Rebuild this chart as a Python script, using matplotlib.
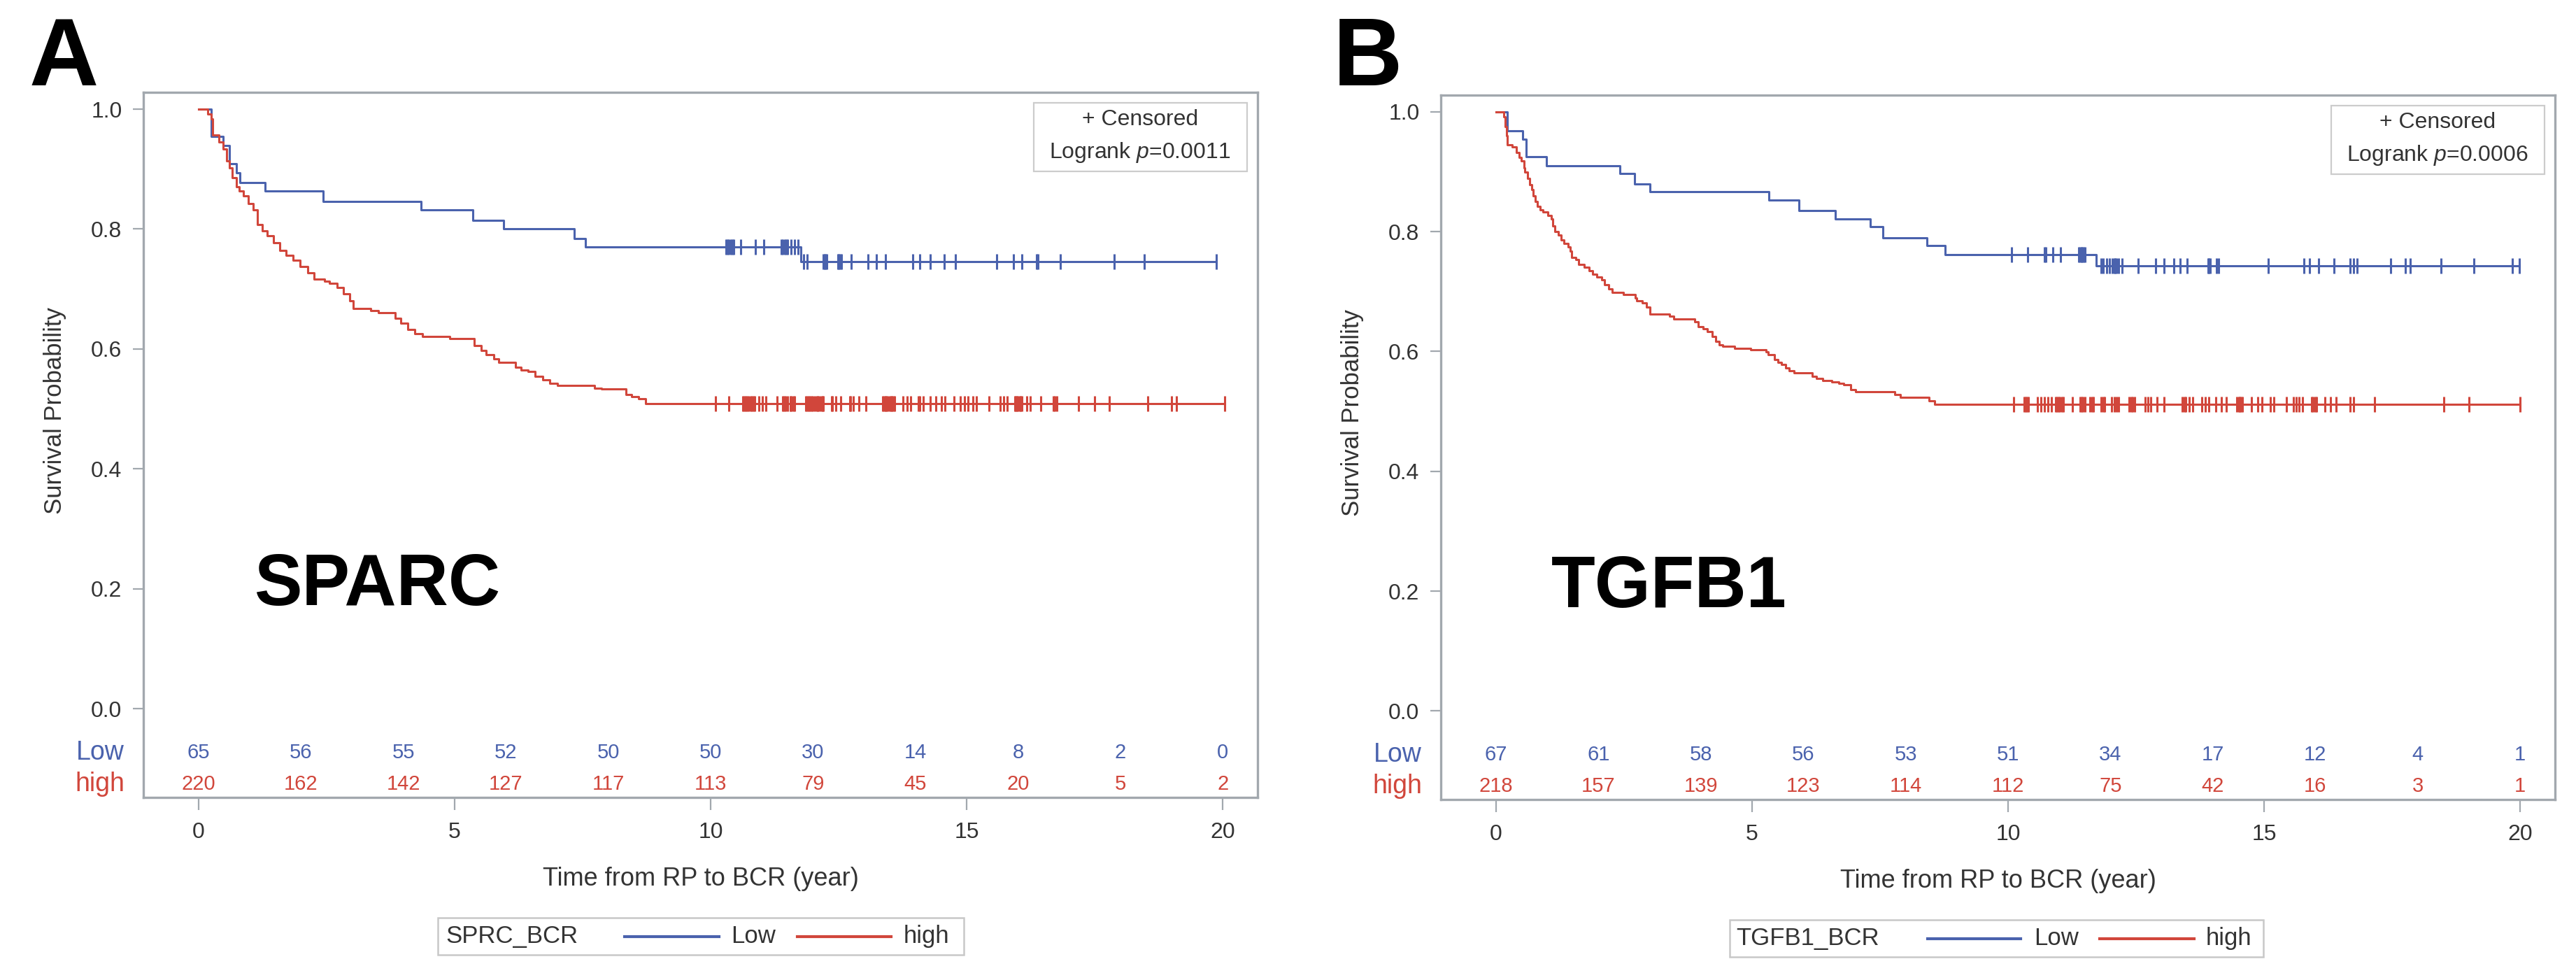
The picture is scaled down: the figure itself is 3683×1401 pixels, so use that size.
import numpy as np
import matplotlib
matplotlib.use('Agg')
import matplotlib.pyplot as plt
from matplotlib.lines import Line2D
from matplotlib.patches import Rectangle

plt.rcParams['font.family'] = ['Liberation Sans', 'DejaVu Sans']
plt.rcParams['mathtext.fontset'] = 'custom'
plt.rcParams['mathtext.rm'] = 'Liberation Sans'
plt.rcParams['mathtext.it'] = 'Liberation Sans:italic'

# ---------------- data ----------------
risk_times = [0, 2, 4, 6, 8, 10, 12, 14, 16, 18, 20]

# A: SPARC
a_low_t = [0.25, 0.48, 0.60, 0.74, 0.80, 1.30, 2.43, 4.34, 5.35, 5.95, 7.33, 7.55, 11.76]
a_low_s = [0.955, 0.939, 0.909, 0.894, 0.877, 0.863, 0.846, 0.832, 0.814, 0.800, 0.784, 0.770, 0.746]
a_low_cens = [10.30, 10.33, 10.36, 10.39, 10.42, 10.45, 10.59, 10.87, 11.03, 11.38, 11.41, 11.44,
              11.47, 11.50, 11.57, 11.64, 11.70, 11.81, 11.88, 12.20, 12.22, 12.24, 12.26, 12.48,
              12.50, 12.53, 12.55, 12.75, 13.07, 13.24, 13.41, 13.94, 14.08, 14.29, 14.56, 14.78,
              15.58, 15.91, 16.07, 16.37, 16.39, 16.83, 17.88, 18.47, 19.87]

a_high_t = [0.18, 0.24, 0.27, 0.39, 0.48, 0.54, 0.60, 0.66, 0.73, 0.79, 0.88, 0.97, 1.06, 1.15,
            1.24, 1.34, 1.46, 1.58, 1.70, 1.85, 1.98, 2.13, 2.25, 2.46, 2.56, 2.71, 2.83, 2.95,
            3.02, 3.36, 3.51, 3.84, 3.94, 4.08, 4.22, 4.37, 4.90, 5.38, 5.52, 5.62, 5.76, 5.86,
            6.19, 6.29, 6.43, 6.57, 6.72, 6.86, 7.01, 7.73, 7.87, 8.35, 8.45, 8.59, 8.73]
a_high_s = [0.992, 0.984, 0.957, 0.945, 0.933, 0.914, 0.902, 0.886, 0.871, 0.863, 0.855, 0.843,
            0.832, 0.808, 0.797, 0.789, 0.777, 0.764, 0.756, 0.748, 0.738, 0.727, 0.717, 0.713,
            0.709, 0.703, 0.692, 0.680, 0.668, 0.664, 0.660, 0.651, 0.643, 0.632, 0.625, 0.621,
            0.617, 0.606, 0.597, 0.591, 0.583, 0.578, 0.569, 0.565, 0.562, 0.554, 0.549, 0.543,
            0.539, 0.535, 0.533, 0.524, 0.520, 0.517, 0.509]
a_high_cens = [10.10, 10.36, 10.62, 10.65, 10.68, 10.71, 10.74, 10.77, 10.80, 10.83, 10.86, 10.94,
               11.01, 11.08, 11.29, 11.41, 11.43, 11.46, 11.50, 11.55, 11.57, 11.61, 11.64, 11.86,
               11.88, 11.91, 11.94, 11.97, 11.99, 12.04, 12.07, 12.09, 12.12, 12.15, 12.18, 12.20,
               12.36, 12.38, 12.44, 12.54, 12.71, 12.73, 12.79, 12.89, 13.03, 13.36, 13.38, 13.41,
               13.43, 13.46, 13.49, 13.52, 13.54, 13.57, 13.59, 13.76, 13.83, 13.90, 14.06, 14.08,
               14.15, 14.29, 14.39, 14.50, 14.57, 14.75, 14.88, 14.95, 15.02, 15.12, 15.19, 15.44,
               15.65, 15.72, 15.79, 15.94, 15.96, 15.98, 16.00, 16.03, 16.05, 16.07, 16.17, 16.24,
               16.45, 16.69, 16.72, 16.76, 17.18, 17.50, 17.78, 18.54, 19.00, 19.10, 20.04]

a_low_risk = [65, 56, 55, 52, 50, 50, 30, 14, 8, 2, 0]
a_high_risk = [220, 162, 142, 127, 117, 113, 79, 45, 20, 5, 2]
a_pvalue = '0.0011'

# B: TGFB1
b_low_t = [0.22, 0.52, 0.58, 0.98, 2.42, 2.70, 3.01, 5.33, 5.92, 6.62, 7.31, 7.55, 8.41, 8.77, 11.72]
b_low_s = [0.969, 0.955, 0.925, 0.910, 0.897, 0.880, 0.867, 0.853, 0.835, 0.821, 0.809, 0.790,
           0.777, 0.762, 0.743]
b_low_cens = [10.06, 10.38, 10.71, 10.74, 10.87, 11.02, 11.38, 11.40, 11.43, 11.45, 11.47, 11.50,
              11.81, 11.86, 11.92, 11.98, 12.04, 12.07, 12.09, 12.12, 12.16, 12.23, 12.54, 12.88,
              13.05, 13.23, 13.36, 13.49, 13.90, 13.92, 13.94, 14.07, 14.11, 15.08, 15.77, 15.88,
              16.06, 16.37, 16.68, 16.75, 16.82, 17.47, 17.75, 17.85, 18.46, 19.09, 19.85, 19.99]

b_high_t = [0.15, 0.17, 0.20, 0.22, 0.31, 0.40, 0.45, 0.49, 0.54, 0.56, 0.61, 0.65, 0.69, 0.72,
            0.76, 0.81, 0.86, 0.92, 1.01, 1.08, 1.11, 1.15, 1.22, 1.27, 1.33, 1.40, 1.45, 1.47,
            1.56, 1.61, 1.72, 1.81, 1.88, 1.97, 2.06, 2.11, 2.20, 2.27, 2.49, 2.72, 2.74, 2.86,
            2.93, 3.00, 3.38, 3.47, 3.88, 3.95, 4.04, 4.13, 4.22, 4.29, 4.36, 4.43, 4.66, 4.97,
            5.27, 5.31, 5.43, 5.50, 5.57, 5.66, 5.72, 5.82, 6.18, 6.25, 6.38, 6.55, 6.69, 6.79,
            6.93, 7.02, 7.79, 7.89, 8.46, 8.56]
b_high_s = [0.992, 0.976, 0.960, 0.945, 0.941, 0.932, 0.924, 0.918, 0.907, 0.899, 0.889, 0.879,
            0.870, 0.860, 0.850, 0.842, 0.837, 0.833, 0.827, 0.821, 0.810, 0.800, 0.794, 0.786,
            0.780, 0.774, 0.767, 0.757, 0.753, 0.745, 0.741, 0.735, 0.729, 0.724, 0.720, 0.712,
            0.704, 0.699, 0.695, 0.689, 0.685, 0.681, 0.674, 0.662, 0.659, 0.654, 0.650, 0.642,
            0.638, 0.633, 0.625, 0.617, 0.611, 0.609, 0.605, 0.603, 0.599, 0.595, 0.587, 0.582,
            0.578, 0.572, 0.568, 0.564, 0.559, 0.555, 0.551, 0.549, 0.547, 0.544, 0.536, 0.533,
            0.528, 0.524, 0.518, 0.512]
b_high_cens = [10.11, 10.31, 10.34, 10.37, 10.40, 10.57, 10.64, 10.71, 10.78, 10.84, 10.93, 10.95,
               10.98, 11.01, 11.05, 11.08, 11.26, 11.40, 11.43, 11.46, 11.50, 11.60, 11.64, 11.67,
               11.81, 11.85, 11.88, 12.02, 12.07, 12.11, 12.16, 12.36, 12.40, 12.43, 12.47, 12.67,
               12.73, 12.78, 12.91, 13.05, 13.40, 13.44, 13.47, 13.54, 13.61, 13.78, 13.85, 13.92,
               14.05, 14.16, 14.26, 14.47, 14.50, 14.52, 14.54, 14.57, 14.75, 14.88, 14.95, 15.12,
               15.19, 15.44, 15.57, 15.63, 15.68, 15.75, 15.92, 15.95, 15.99, 16.02, 16.19, 16.30,
               16.40, 16.68, 16.75, 17.16, 18.51, 19.00, 20.00]

b_low_risk = [67, 61, 58, 56, 53, 51, 34, 17, 12, 4, 1]
b_high_risk = [218, 157, 139, 123, 114, 112, 75, 42, 16, 3, 1]
b_pvalue = '0.0006'

# ---------------- style ----------------
BLUE = '#4A62AD'
RED = '#D1463B'
FRAME = '#A2A8AE'
TXT = '#333333'
W, H = 3683, 1401

fig = plt.figure(figsize=(W / 100, H / 100), dpi=100)


def fx(x):
    return x / W


def fy(y):
    return 1 - y / H


def km_draw(ax, t, s, cens, color):
    t = np.asarray(t)
    s = np.asarray(s)
    cens = np.asarray(cens)
    tt = np.r_[0, t, cens.max()]
    ss = np.r_[1.0, s, s[-1]]
    ax.step(tt, ss, where='post', color=color, lw=2.2, zorder=3)
    idx = np.searchsorted(t, cens, side='right')
    cs = np.r_[1.0, s][idx]
    ax.plot(cens, cs, ls='none', marker='|', ms=16, mew=2.2, color=color, zorder=4)


panels = [
    dict(rect=(205, 132, 1798, 1140), letter='A', letter_x=42, gene='SPARC', title='SPRC_BCR',
         low=(a_low_t, a_low_s, a_low_cens), high=(a_high_t, a_high_s, a_high_cens),
         low_risk=a_low_risk, high_risk=a_high_risk, p=a_pvalue,
         box=(626, 1312, 1378, 1365), offs=(11, 267, 402, 419, 514, 648, 666)),
    dict(rect=(2060, 136, 3653, 1143), letter='B', letter_x=1906, gene='TGFB1', title='TGFB1_BCR',
         low=(b_low_t, b_low_s, b_low_cens), high=(b_high_t, b_high_s, b_high_cens),
         low_risk=b_low_risk, high_risk=b_high_risk, p=b_pvalue,
         box=(2473, 1315, 3236, 1368), offs=(9, 283, 416, 435, 529, 664, 681)),
]

for pn in panels:
    x0, y0, x1, y1 = pn['rect']
    ax = fig.add_axes([fx(x0), fy(y1), (x1 - x0) / W, (y1 - y0) / H])
    ax.set_xlim(-1.08, 20.68)
    ax.set_ylim(-0.148, 1.028)

    km_draw(ax, *pn['low'], BLUE)
    km_draw(ax, *pn['high'], RED)

    # number at risk rows inside the frame
    for t, n in zip(risk_times, pn['low_risk']):
        ax.text(t, -0.0736, str(n), color=BLUE, fontsize=21, ha='center', va='center')
    for t, n in zip(risk_times, pn['high_risk']):
        ax.text(t, -0.126, str(n), color=RED, fontsize=21, ha='center', va='center')
    ax.text(-0.017, -0.0736, 'Low', color=BLUE, fontsize=27, ha='right', va='center',
            transform=ax.get_yaxis_transform())
    ax.text(-0.017, -0.126, 'high', color=RED, fontsize=27, ha='right', va='center',
            transform=ax.get_yaxis_transform())

    ax.set_xticks([0, 5, 10, 15, 20])
    ax.set_yticks([0.0, 0.2, 0.4, 0.6, 0.8, 1.0])
    ax.set_yticklabels(['0.0', '0.2', '0.4', '0.6', '0.8', '1.0'])
    ax.tick_params(axis='y', length=11, width=1.6, color=FRAME, pad=11, labelsize=23, labelcolor=TXT)
    ax.tick_params(axis='x', length=13, width=1.6, color=FRAME, pad=12, labelsize=23, labelcolor=TXT)
    for sp in ax.spines.values():
        sp.set_color(FRAME)
        sp.set_linewidth(2.4)

    ax.set_ylabel('Survival Probability', fontsize=25, color=TXT, va='center')
    ax.yaxis.set_label_coords(-0.0797, 0.5486)
    ax.set_xlabel('Time from RP to BCR (year)', fontsize=26, color=TXT, va='center')
    ax.xaxis.set_label_coords(0.5, -0.116)

    # censored / logrank box
    ax.add_patch(Rectangle((0.7991, 0.8879), 0.1915, 0.0972, transform=ax.transAxes,
                           facecolor='white', edgecolor='#CCCCCC', lw=1.6, zorder=5))
    ax.text(0.8945, 0.9613, '+ Censored', transform=ax.transAxes, fontsize=23, color=TXT,
            ha='center', va='center', zorder=6)
    ax.text(0.8945, 0.9147, 'Logrank $p$=' + pn['p'], transform=ax.transAxes, fontsize=23,
            color=TXT, ha='center', va='center', zorder=6)

    # gene name
    ax.text(0.0992, 0.2728, pn['gene'], transform=ax.transAxes, fontsize=74,
            fontweight='bold', color='black', ha='left', va='baseline')

    # panel letter
    fig.text(fx(pn['letter_x']), fy(122), pn['letter'], fontsize=99, fontweight='bold',
             color='black', ha='left', va='baseline')

    # legend below the plot
    bx0, by0, bx1, by1 = pn['box']
    o = pn['offs']
    yc = (by0 + by1) / 2
    fig.add_artist(Rectangle((fx(bx0), fy(by1)), (bx1 - bx0) / W, (by1 - by0) / H,
                             transform=fig.transFigure, facecolor='white',
                             edgecolor='#C8C8C8', lw=1.8))
    fig.text(fx(bx0 + o[0]), fy(yc), pn['title'], fontsize=25, color=TXT, ha='left', va='center')
    fig.add_artist(Line2D([fx(bx0 + o[1]), fx(bx0 + o[2])], [fy(yc), fy(yc)],
                          transform=fig.transFigure, color=BLUE, lw=3))
    fig.text(fx(bx0 + o[3]), fy(yc), 'Low', fontsize=25, color=TXT, ha='left', va='center')
    fig.add_artist(Line2D([fx(bx0 + o[4]), fx(bx0 + o[5])], [fy(yc), fy(yc)],
                          transform=fig.transFigure, color=RED, lw=3))
    fig.text(fx(bx0 + o[6]), fy(yc), 'high', fontsize=25, color=TXT, ha='left', va='center')

fig.savefig('out.png', dpi=100, facecolor='white')
